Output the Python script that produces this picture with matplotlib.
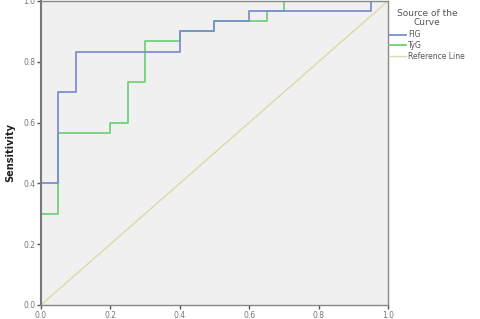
import matplotlib
matplotlib.use("Agg")
import matplotlib.pyplot as plt

# FIG ROC curve (1 - specificity, sensitivity)
fig_fpr = [0.0, 0.0, 0.05, 0.05, 0.10, 0.10, 0.40, 0.40, 0.50, 0.50, 0.60, 0.60, 0.95, 0.95, 1.0]
fig_tpr = [0.0, 0.40, 0.40, 0.70, 0.70, 0.833, 0.833, 0.90, 0.90, 0.933, 0.933, 0.967, 0.967, 1.0, 1.0]

# TyG ROC curve
tyg_fpr = [0.0, 0.0, 0.05, 0.05, 0.20, 0.20, 0.25, 0.25, 0.30, 0.30, 0.40, 0.40, 0.50, 0.50, 0.65, 0.65, 0.70, 0.70, 1.0]
tyg_tpr = [0.0, 0.30, 0.30, 0.567, 0.567, 0.60, 0.60, 0.733, 0.733, 0.867, 0.867, 0.90, 0.90, 0.933, 0.933, 0.967, 0.967, 1.0, 1.0]

ref_x = [0.0, 1.0]
ref_y = [0.0, 1.0]

ticks = [0.0, 0.2, 0.4, 0.6, 0.8, 1.0]
tick_labels = ["0.0", "0.2", "0.4", "0.6", "0.8", "1.0"]

fig = plt.figure(figsize=(4.8, 3.19), dpi=100)
fig.patch.set_facecolor("white")
ax = fig.add_axes([0.0854, 0.044, 0.7229, 0.953])
ax.set_facecolor("#f0f0f0")

l_ref, = ax.plot(ref_x, ref_y, color="#ddd9a6", lw=1.0, label="Reference Line")
l_tyg, = ax.plot(tyg_fpr, tyg_tpr, color="#72d07c", lw=1.3, label="TyG")
l_fig, = ax.plot(fig_fpr, fig_tpr, color="#7b8ed0", lw=1.3, label="FIG")

ax.set_xlim(0, 1)
ax.set_ylim(0, 1)
ax.set_xticks(ticks)
ax.set_xticklabels(tick_labels)
ax.set_yticks(ticks)
ax.set_yticklabels(tick_labels)
ax.tick_params(labelsize=5.5, colors="#555555", length=3, width=1, pad=1)
ax.tick_params(axis="both", labelcolor="#777777")
for s in ax.spines.values():
    s.set_color("#888888")
    s.set_linewidth(1.0)
ax.spines["left"].set_color("#777777")
ax.spines["left"].set_linewidth(1.5)

ax.set_ylabel("Sensitivity", fontsize=7, fontweight="bold", color="#222222", labelpad=6)

leg = fig.legend(handles=[l_fig, l_tyg, l_ref], labels=["FIG", "TyG", "Reference Line"],
                 title="Source of the\nCurve", loc="upper left",
                 bbox_to_anchor=(0.805, 0.98), frameon=False, fontsize=5.5,
                 title_fontsize=6.5, handlelength=2.2, handletextpad=0.2,
                 labelspacing=0.25, borderaxespad=0)
leg.get_title().set_color("#555555")
leg.get_title().set_multialignment("center")
leg.get_title().set_linespacing(1.0)
leg._legend_box.sep = 2
for t in leg.get_texts():
    t.set_color("#555555")

fig.savefig("out.png", dpi=100)
